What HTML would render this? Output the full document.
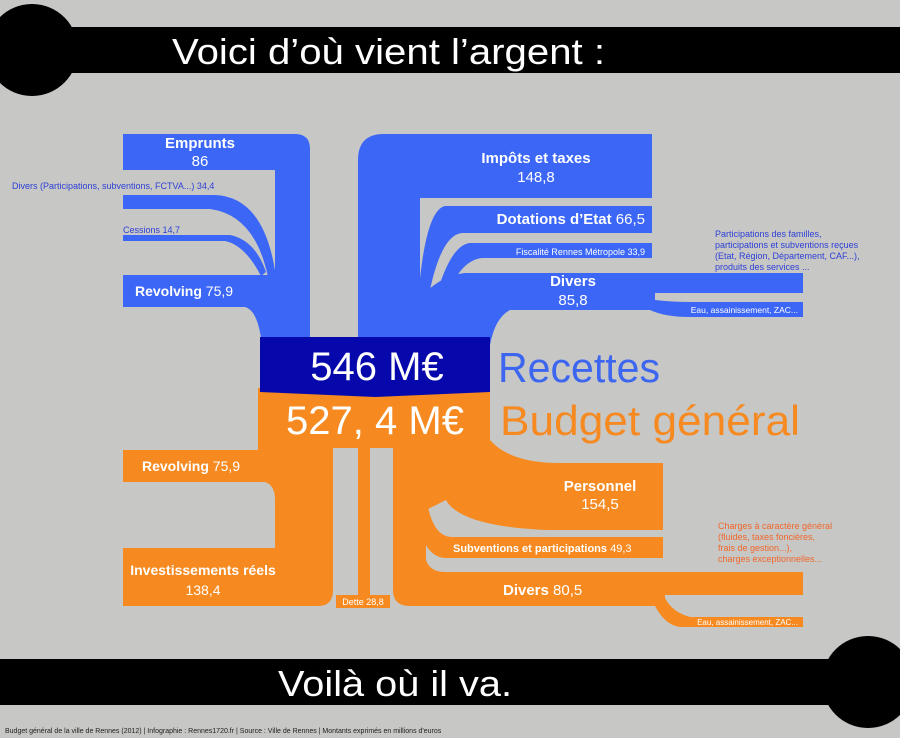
<!DOCTYPE html>
<html><head><meta charset="utf-8"><style>
html,body{margin:0;padding:0;background:#c6c6c6;}
svg{display:block;font-family:"Liberation Sans",sans-serif;}
</style></head><body>
<svg width="900" height="738" viewBox="0 0 900 738" xmlns="http://www.w3.org/2000/svg">
<rect width="900" height="738" fill="#c7c7c6"/>
<rect x="30" y="27" width="870" height="46" fill="#000"/>
<circle cx="32" cy="50" r="46" fill="#000"/>
<text x="172" y="64" font-size="36" fill="#fff" textLength="433" lengthAdjust="spacingAndGlyphs">Voici d’où vient l’argent :</text>
<rect x="0" y="659" width="870" height="46" fill="#000"/>
<circle cx="868" cy="682" r="46" fill="#000"/>
<text x="278" y="696" font-size="36" fill="#fff" textLength="234" lengthAdjust="spacingAndGlyphs">Voilà où il va.</text>
<text x="5" y="733" font-size="7" fill="#222">Budget général de la ville de Rennes (2012) | Infographie : Rennes1720.fr | Source : Ville de Rennes | Montants exprimés en millions d'euros</text>

<g fill="#3b66f6">
<path d="M123,134 H295 Q310,134 310,149 V345 H262 Q258,310 245,307 H123 V275 H275 V170 H123 Z"/>
<path d="M123,195 H215 Q265,197 276,277 L268,277 Q255,215 210,209 H123 Z"/>
<path d="M123,235 H230 Q255,240 266,272 L261,276 Q245,245 225,241 H123 Z"/>
<path d="M358,345 V160 Q358,134 384,134 H652 V198 H420 V345 Z"/>
<path d="M652,206 H445 Q425,210 418,300 L428,300 Q440,235 462,233 H652 Z"/>
<path d="M652,243 H470 Q450,245 435,300 L445,300 Q460,260 482,258 H652 Z"/>
<path d="M803,273 V293 H655 V300 Q672,302 690,302 H803 V317 H690 Q665,317 650,310 H510 Q495,318 490,345 H418 V300 Q440,275 465,273 Z"/>
</g>
<g fill="#f68a21">
<path d="M258,440 V450 H123 V482 H265 Q275,485 275,500 V548 H123 V606 H318 Q333,606 333,590 V440 Z"/>
<rect x="358" y="440" width="12" height="158"/>
<rect x="336" y="595" width="54" height="13"/>
<path d="M393,440 H426 V560 Q430,572 445,572 H803 V595 H665 V598 Q672,612 690,617 H803 V627 H680 Q665,625 655,606 H410 Q393,606 393,590 Z"/>
<path d="M424,470 Q426,537 452,537 H663 V558 H445 Q418,556 418,500 Z"/>
<path d="M420,440 H490 Q510,463 560,463 H663 V530 H545 Q460,526 446,500 Q436,505 426,510 V440 Z"/>
</g>
<rect x="258" y="388" width="232" height="60" fill="#f68a21"/>
<path d="M260,337 H490 V392 L375,397 L260,392 Z" fill="#0608ab"/>
<text x="377" y="380" font-size="40" fill="#fff" text-anchor="middle">546 M€</text>
<text x="375" y="434" font-size="40" fill="#fff" text-anchor="middle">527, 4 M€</text>
<text x="498" y="382" font-size="42" fill="#3d66f0" textLength="162" lengthAdjust="spacingAndGlyphs">Recettes</text>
<text x="500" y="435" font-size="42" fill="#f68a21" textLength="300" lengthAdjust="spacingAndGlyphs">Budget général</text>

<g fill="#fff">
<text x="200" y="148" font-size="15" font-weight="bold" text-anchor="middle">Emprunts</text>
<text x="200" y="166" font-size="15" text-anchor="middle">86</text>
<text x="135" y="296" font-size="14"><tspan font-weight="bold">Revolving</tspan> 75,9</text>
<text x="536" y="163" font-size="15" font-weight="bold" text-anchor="middle">Impôts et taxes</text>
<text x="536" y="182" font-size="15" text-anchor="middle">148,8</text>
<text x="645" y="224" font-size="15" text-anchor="end"><tspan font-weight="bold">Dotations d’Etat</tspan> 66,5</text>
<text x="645" y="255" font-size="9" text-anchor="end">Fiscalité Rennes Métropole 33,9</text>
<text x="573" y="286" font-size="15" font-weight="bold" text-anchor="middle">Divers</text>
<text x="573" y="305" font-size="15" text-anchor="middle">85,8</text>
<text x="798" y="313" font-size="8.5" text-anchor="end">Eau, assainissement, ZAC...</text>
</g>
<g fill="#2d3fd6" font-size="9">
<text x="12" y="189">Divers (Participations, subventions, FCTVA...) 34,4</text>
<text x="123" y="233">Cessions 14,7</text>
<text x="715" y="237">Participations des familles,</text>
<text x="715" y="248">participations et subventions reçues</text>
<text x="715" y="259">(Etat, Région, Département, CAF...),</text>
<text x="715" y="270">produits des services ...</text>
</g>
<g fill="#fff">
<text x="142" y="471" font-size="14"><tspan font-weight="bold">Revolving</tspan> 75,9</text>
<text x="203" y="575" font-size="14" font-weight="bold" text-anchor="middle">Investissements réels</text>
<text x="203" y="595" font-size="14" text-anchor="middle">138,4</text>
<text x="363" y="605" font-size="9" text-anchor="middle">Dette 28,8</text>
<text x="600" y="491" font-size="15" font-weight="bold" text-anchor="middle">Personnel</text>
<text x="600" y="509" font-size="15" text-anchor="middle">154,5</text>
<text x="453" y="552" font-size="11"><tspan font-weight="bold">Subventions et participations</tspan> 49,3</text>
<text x="503" y="595" font-size="15"><tspan font-weight="bold">Divers</tspan> 80,5</text>
<text x="798" y="625" font-size="8" text-anchor="end">Eau, assainissement, ZAC...</text>
</g>
<g fill="#f0672a" font-size="9">
<text x="718" y="529">Charges à caractère général</text>
<text x="718" y="540">(fluides, taxes foncières,</text>
<text x="718" y="551">frais de gestion...),</text>
<text x="718" y="562">charges exceptionnelles...</text>
</g>
</svg>
</body></html>
